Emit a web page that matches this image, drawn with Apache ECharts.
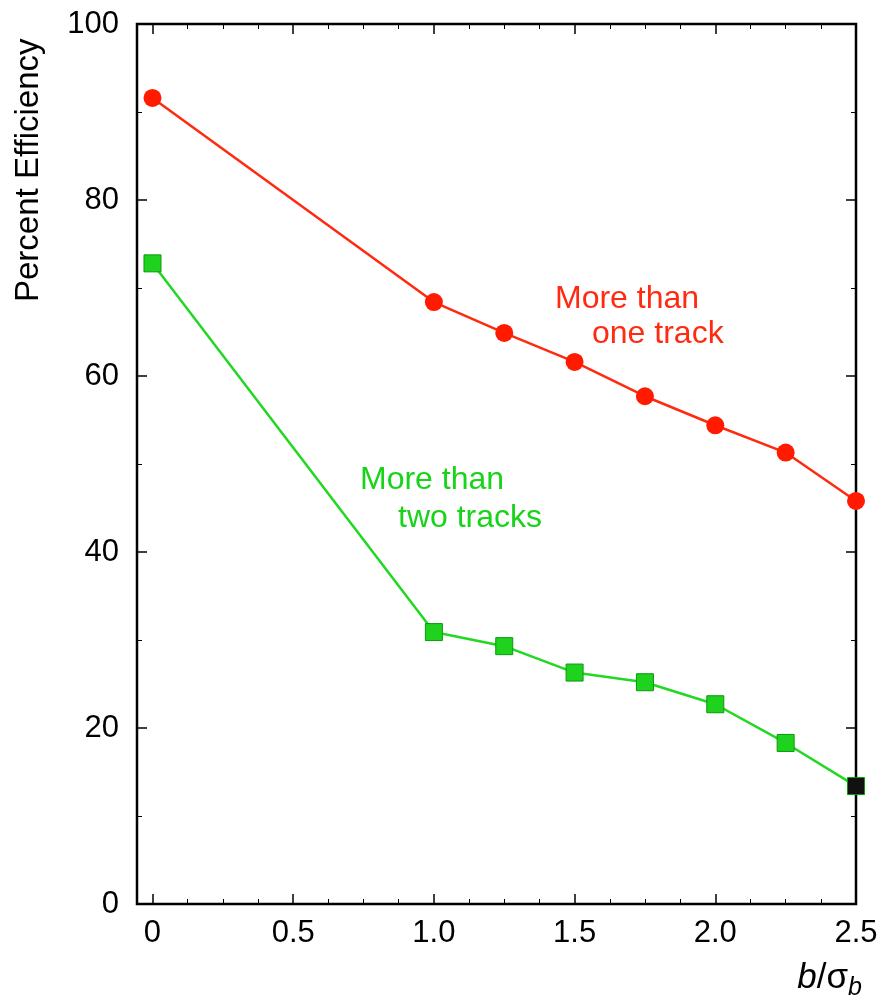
<!DOCTYPE html>
<html>
<head>
<meta charset="utf-8">
<script src="https://cdn.jsdelivr.net/npm/echarts@6/dist/echarts.min.js"></script>
<style>
  html, body { margin: 0; padding: 0; background: #fff; }
  #chart { width: 883px; height: 1004px; }
</style>
</head>
<body>
<div id="chart"></div>
<script>
// b / sigma_b values
const bSigma = [0, 1.0, 1.25, 1.5, 1.75, 2.0, 2.25, 2.5]
// percent efficiency, more than one track
const oneTrack = [91.6, 68.4, 64.9, 61.6, 57.7, 54.4, 51.3, 45.8]
// percent efficiency, more than two tracks
const twoTracks = [72.8, 30.9, 29.3, 26.3, 25.2, 22.7, 18.3, 13.4]
const xMajor = [0, 0.5, 1.0, 1.5, 2.0, 2.5]
const xMinor = [0.125, 0.25, 0.375, 0.625, 0.75, 0.875, 1.125, 1.25, 1.375,
  1.625, 1.75, 1.875, 2.125, 2.25, 2.375]

const font = '"Liberation Sans", Arial, sans-serif'
const pairs = (xs, ys) => xs.map((x, i) => [x, ys[i]])

const chart = echarts.init(document.getElementById('chart'))

const xBase = {
  type: 'value',
  min: -0.055,
  max: 2.5,
  axisLine: { show: false, onZero: false },
  splitLine: { show: false }
}
const yBase = {
  type: 'value',
  min: 0,
  max: 100,
  interval: 20,
  axisLine: { show: false, onZero: false },
  splitLine: { show: false },
  minorTick: { show: true, splitNumber: 2, length: 5, lineStyle: { color: '#000', width: 1 } },
  axisTick: { show: true, inside: true, length: 10, lineStyle: { color: '#000', width: 1.5 } }
}

const twoPts = pairs(bSigma, twoTracks)

chart.setOption({
  backgroundColor: '#fff',
  animation: false,
  grid: {
    left: 137, right: 27, top: 24, bottom: 100,
    show: true, borderColor: '#000', borderWidth: 2.5, backgroundColor: 'transparent'
  },
  xAxis: [
    Object.assign({}, xBase, {
      position: 'bottom',
      axisTick: { show: true, inside: true, length: 10, customValues: xMajor, lineStyle: { color: '#000', width: 1.5 } },
      axisLabel: {
        customValues: xMajor, margin: 14, color: '#000', fontSize: 31, fontFamily: font,
        formatter: v => (v === 0 ? '0' : v.toFixed(1))
      },
      name: '{i|b}{n|/σ}{s|b}',
      nameLocation: 'end',
      nameGap: 0,
      nameTextStyle: {
        align: 'right', verticalAlign: 'top', padding: [52, -6, 0, 0],
        rich: {
          i: { fontSize: 35, fontStyle: 'italic', fontFamily: font, color: '#000' },
          n: { fontSize: 35, fontFamily: font, color: '#000' },
          s: { fontSize: 25, fontStyle: 'italic', fontFamily: font, color: '#000', padding: [20, 0, 0, 0] }
        }
      }
    }),
    Object.assign({}, xBase, {
      position: 'bottom',
      axisTick: { show: true, inside: true, length: 5, customValues: xMinor, lineStyle: { color: '#000', width: 1 } },
      axisLabel: { show: false }
    }),
    Object.assign({}, xBase, {
      position: 'top',
      axisTick: { show: true, inside: true, length: 10, customValues: xMajor, lineStyle: { color: '#000', width: 1.5 } },
      axisLabel: { show: false }
    }),
    Object.assign({}, xBase, {
      position: 'top',
      axisTick: { show: true, inside: true, length: 5, customValues: xMinor, lineStyle: { color: '#000', width: 1 } },
      axisLabel: { show: false }
    })
  ],
  yAxis: [
    Object.assign({}, yBase, {
      position: 'left',
      axisLabel: { margin: 18, color: '#000', fontSize: 31, fontFamily: font }
    }),
    Object.assign({}, yBase, {
      position: 'right',
      axisLabel: { show: false }
    })
  ],
  graphic: [
    {
      type: 'text', x: 12, y: 302, rotation: Math.PI / 2,
      style: { text: 'Percent Efficiency', font: '33px ' + font, fill: '#000', textVerticalAlign: 'top' }
    },
    { type: 'text', left: 555, top: 283, style: { text: 'More than', font: '32px ' + font, fill: '#ff2a10' } },
    { type: 'text', left: 592, top: 318, style: { text: 'one track', font: '32px ' + font, fill: '#ff2a10' } },
    { type: 'text', left: 360, top: 464, style: { text: 'More than', font: '32px ' + font, fill: '#18d418' } },
    { type: 'text', left: 398, top: 502, style: { text: 'two tracks', font: '32px ' + font, fill: '#18d418' } }
  ],
  series: [
    {
      name: 'More than one track',
      type: 'line',
      data: pairs(bSigma, oneTrack),
      symbol: 'circle',
      symbolSize: 18,
      lineStyle: { color: '#ff2a10', width: 2.5 },
      itemStyle: { color: '#ff1a00' },
      z: 3
    },
    {
      name: 'More than two tracks',
      type: 'line',
      data: twoPts.map((p, i) => i === twoPts.length - 1
        ? { value: p, itemStyle: { color: '#111' } }
        : p),
      symbol: 'rect',
      symbolSize: 17,
      lineStyle: { color: '#22d822', width: 2.5 },
      itemStyle: { color: '#1ed21e', borderColor: '#0a9a0a', borderWidth: 1 },
      z: 3
    }
  ]
})
</script>
</body>
</html>
